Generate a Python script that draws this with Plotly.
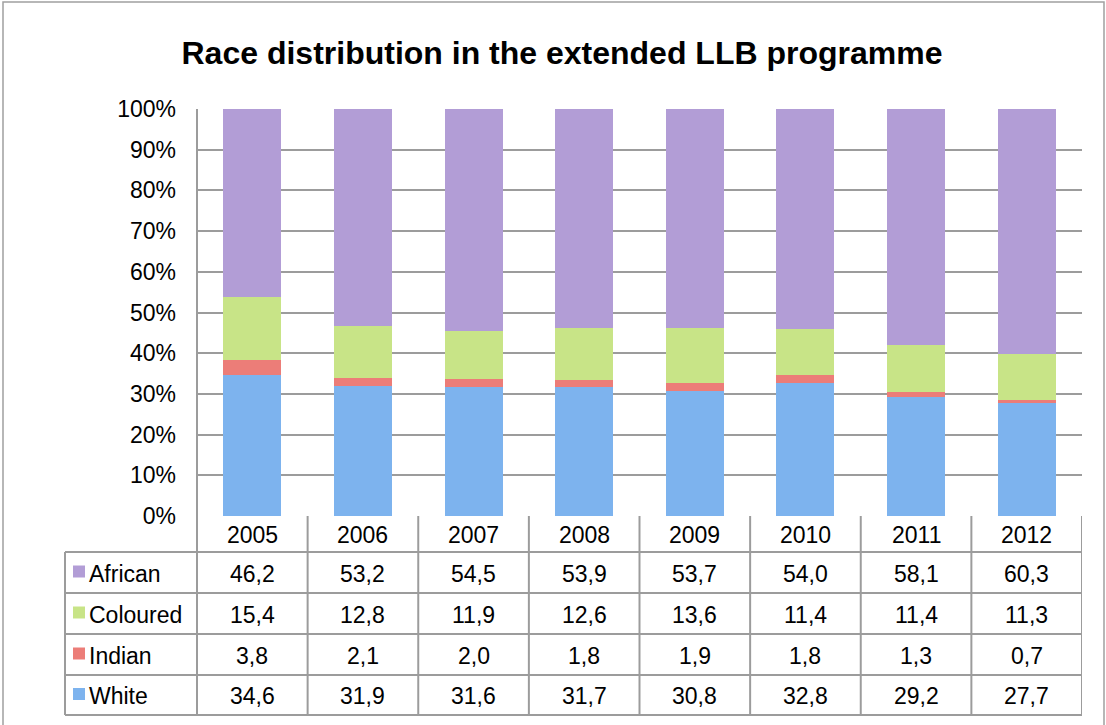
import plotly.graph_objects as go

years = ['2005', '2006', '2007', '2008', '2009', '2010', '2011', '2012']
african = [46.2, 53.2, 54.5, 53.9, 53.7, 54.0, 58.1, 60.3]
coloured = [15.4, 12.8, 11.9, 12.6, 13.6, 11.4, 11.4, 11.3]
indian = [3.8, 2.1, 2.0, 1.8, 1.9, 1.8, 1.3, 0.7]
white = [34.6, 31.9, 31.6, 31.7, 30.8, 32.8, 29.2, 27.7]

# stacking order bottom -> top
series = [('White', white, '#7db3ee'),
          ('Indian', indian, '#ec7d78'),
          ('Coloured', coloured, '#c8e487'),
          ('African', african, '#b29dd6')]
# order of rows in the data table
table_rows = ['African', 'Coloured', 'Indian', 'White']

W, H = 1106, 725
def px(x):
    return x / W
def py(y):
    return 1 - y / H

grid_col = '#9c9c9c'
font = 'Liberation Sans, Arial, sans-serif'
fs = 23

fig = go.Figure()
for name, vals, col in series:
    fig.add_trace(go.Bar(x=years, y=vals, name=name, marker_color=col,
                         marker_line_width=0, width=0.525, showlegend=False))

shapes = []
annots = []

# table geometry (pixels)
top_tbl = 516
row_y = [552, 593, 634, 675, 715]
left_x = 65
axis_x = 197
right_x = 1082

# horizontal table lines
for y in row_y:
    shapes.append(dict(type='line', xref='paper', yref='paper', x0=px(left_x), x1=px(right_x),
                       y0=py(y), y1=py(y), line=dict(color=grid_col, width=2)))
# vertical lines at category boundaries
for i in range(len(years) + 1):
    shapes.append(dict(type='line', xref='x', yref='paper', x0=i - 0.5, x1=i - 0.5,
                       y0=py(top_tbl), y1=py(row_y[-1]), line=dict(color=grid_col, width=2)))
# left edge of legend column
shapes.append(dict(type='line', xref='paper', yref='paper', x0=px(left_x), x1=px(left_x),
                   y0=py(row_y[0]), y1=py(row_y[-1]), line=dict(color=grid_col, width=2)))
# vertical axis line
shapes.append(dict(type='line', xref='paper', yref='paper', x0=px(axis_x), x1=px(axis_x),
                   y0=py(109), y1=py(row_y[-1]), line=dict(color=grid_col, width=2)))
# outer chart frame
shapes.append(dict(type='rect', xref='paper', yref='paper', x0=px(3), x1=px(1104),
                   y0=py(740), y1=py(2), line=dict(color='#a0a0a0', width=1.5)))

# year header
for i, yr in enumerate(years):
    annots.append(dict(x=i, y=py((top_tbl + row_y[0]) / 2 + 1), xref='x', yref='paper',
                       yanchor='middle', text=yr, showarrow=False,
                       font=dict(size=fs, color='black', family=font)))

colmap = {name: (vals, col) for name, vals, col in series}
for r, name in enumerate(table_rows):
    vals, col = colmap[name]
    yc = (row_y[r] + row_y[r + 1]) / 2
    shapes.append(dict(type='rect', xref='paper', yref='paper', x0=px(73), x1=px(85),
                       y0=py(yc + 5), y1=py(yc - 7), fillcolor=col, line=dict(width=0)))
    annots.append(dict(x=px(87), y=py(yc + 1), xref='paper', yref='paper', xanchor='left',
                       yanchor='middle', text=name, showarrow=False,
                       font=dict(size=fs, color='black', family=font)))
    for i, v in enumerate(vals):
        annots.append(dict(x=i, y=py(yc + 1), xref='x', yref='paper', yanchor='middle',
                           text=f'{v:.1f}'.replace('.', ','), showarrow=False,
                           font=dict(size=fs, color='black', family=font)))

fig.update_layout(
    width=W, height=H,
    margin=dict(l=0, r=0, t=0, b=0, autoexpand=False),
    paper_bgcolor='white', plot_bgcolor='white',
    barmode='stack', bargap=0.475,
    title=dict(text='<b>Race distribution in the extended LLB programme</b>',
               x=px(562), xanchor='center', y=py(53), yanchor='middle',
               font=dict(size=32, color='black', family=font)),
    xaxis=dict(domain=[px(axis_x), px(right_x)], range=[-0.5, 7.5], showticklabels=False,
               showgrid=False, zeroline=False, showline=False, fixedrange=True),
    yaxis=dict(domain=[py(top_tbl), py(109)], range=[0, 100], dtick=10, ticksuffix='%',
               showgrid=True, gridcolor=grid_col, gridwidth=2, zeroline=False, showline=False,
               ticks='', ticklabelstandoff=20, automargin=False,
               tickfont=dict(size=fs, color='black', family=font)),
    shapes=shapes, annotations=annots,
    font=dict(family=font),
)

fig.write_html("out.html", config={'displayModeBar': False},
               post_script="document.body.style.margin='0';document.body.style.overflow='hidden';")
